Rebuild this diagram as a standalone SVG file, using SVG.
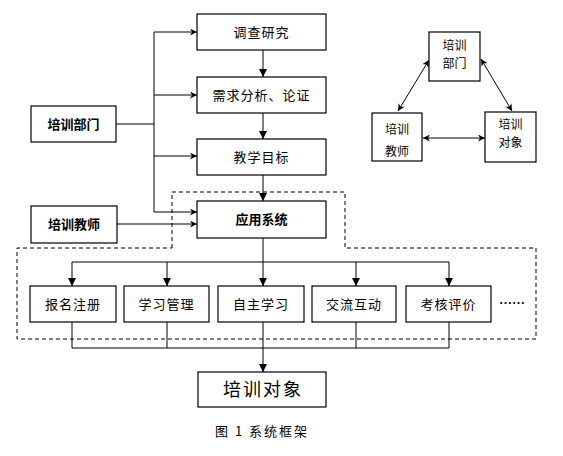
<svg xmlns="http://www.w3.org/2000/svg" width="563" height="456" viewBox="0 0 563 456">
<style>
.box{fill:#fff;stroke:#000;stroke-width:1.2}
.ln{fill:none;stroke:#000;stroke-width:1}
.dash{fill:none;stroke:#000;stroke-width:1;stroke-dasharray:4,3}
text{font-family:"Noto Sans CJK SC","Noto Sans",sans-serif;font-size:13px;fill:#000;text-anchor:middle}
.b{font-weight:bold}
.big{font-size:18px;letter-spacing:2px}
.sm{font-size:12px}
</style>
<defs>
<marker id="a" viewBox="0 0 10 10" refX="10" refY="5" markerWidth="7" markerHeight="7" orient="auto-start-reverse" markerUnits="userSpaceOnUse">
<path d="M0,0 L10,5 L0,10 L3,5 Z" fill="#000"/>
</marker>
<marker id="t" viewBox="0 0 10 10" refX="10" refY="5" markerWidth="8" markerHeight="8" orient="auto" markerUnits="userSpaceOnUse">
<path d="M0,0 L10,5 L0,10 Z" fill="#000"/>
</marker>
</defs>
<rect width="563" height="456" fill="#fff"/>
<g id="dashed-region">
<path class="dash" d="M172,248 V192 H345 V248 H536 V339 H17 V248 H172"/>
</g>
<g id="connectors">
<path class="ln" d="M116,124 H154"/>
<path class="ln" d="M154,32 V212"/>
<path class="ln" d="M154,32 H197" marker-end="url(#a)"/>
<path class="ln" d="M154,95 H197" marker-end="url(#a)"/>
<path class="ln" d="M154,156 H197" marker-end="url(#a)"/>
<path class="ln" d="M154,212 H197" marker-end="url(#a)"/>
<path class="ln" d="M117,224 H197" marker-end="url(#a)"/>
<path class="ln" d="M263,50 V77" marker-end="url(#t)"/>
<path class="ln" d="M263,113 V139" marker-end="url(#t)"/>
<path class="ln" d="M263,175 V201" marker-end="url(#t)"/>
<path class="ln" d="M263,238 V286" marker-end="url(#t)"/>
<path class="ln" d="M72,262 H449"/>
<path class="ln" d="M72,262 V286" marker-end="url(#t)"/>
<path class="ln" d="M167,262 V286" marker-end="url(#t)"/>
<path class="ln" d="M356,262 V286" marker-end="url(#t)"/>
<path class="ln" d="M449,262 V286" marker-end="url(#t)"/>
<path class="ln" d="M72,322 V348 H449 V322 M167,322 V348 M356,322 V348"/>
<path class="ln" d="M263,322 V372" marker-end="url(#t)"/>
<path class="ln" d="M429,60 L398,111" marker-start="url(#a)" marker-end="url(#a)"/>
<path class="ln" d="M481,59 L512,111" marker-start="url(#a)" marker-end="url(#a)"/>
<path class="ln" d="M423,138 L485,138" marker-start="url(#a)" marker-end="url(#a)"/>
</g>
<g id="n-diaocha"><rect class="box" x="197" y="14" width="129" height="36"/><text x="261.5" y="36.5" letter-spacing="1">调查研究</text></g>
<g id="n-xuqiu"><rect class="box" x="197" y="77" width="129" height="36"/><text x="261.5" y="99.5" letter-spacing="1">需求分析、论证</text></g>
<g id="n-mubiao"><rect class="box" x="197" y="139" width="129" height="36"/><text x="261.5" y="161.5" letter-spacing="1">教学目标</text></g>
<g id="n-xitong"><rect class="box" x="197" y="201" width="129" height="37"/><text class="b" x="261.5" y="224">应用系统</text></g>
<g id="n-bumen"><rect class="box" x="31" y="106" width="85" height="36"/><text class="b" x="73.5" y="128.5">培训部门</text></g>
<g id="n-jiaoshi"><rect class="box" x="31" y="206" width="86" height="37"/><text class="b" x="74" y="229">培训教师</text></g>
<g id="n-baoming"><rect class="box" x="30" y="286" width="86" height="36"/><text x="73" y="308.5" letter-spacing="1">报名注册</text></g>
<g id="n-guanli"><rect class="box" x="124" y="286" width="85" height="36"/><text x="166.5" y="308.5" letter-spacing="1">学习管理</text></g>
<g id="n-zizhu"><rect class="box" x="218" y="286" width="86" height="36"/><text x="261" y="308.5" letter-spacing="1">自主学习</text></g>
<g id="n-jiaoliu"><rect class="box" x="312" y="286" width="84" height="36"/><text x="354" y="308.5" letter-spacing="1">交流互动</text></g>
<g id="n-kaohe"><rect class="box" x="406" y="286" width="85" height="36"/><text x="448.5" y="308.5" letter-spacing="1">考核评价</text></g>
<g id="n-more"><text x="512" y="308" class="b">……</text></g>
<g id="n-duixiang"><rect class="box" x="198" y="372" width="128" height="35"/><text class="big" x="263" y="396">培训对象</text></g>
<g id="t-bumen"><rect class="box" x="429" y="32" width="51" height="49"/><text class="sm" x="454.5" y="50">培训</text><text class="sm" x="454.5" y="68">部门</text></g>
<g id="t-jiaoshi"><rect class="box" x="372" y="113" width="50" height="48"/><text class="sm" x="397" y="134">培训</text><text class="sm" x="397" y="156">教师</text></g>
<g id="t-duixiang"><rect class="box" x="485" y="112" width="51" height="50"/><text class="sm" x="510.5" y="129">培训</text><text class="sm" x="510.5" y="147">对象</text></g>
<text x="262" y="436" letter-spacing="2">图 1 系统框架</text>
</svg>
